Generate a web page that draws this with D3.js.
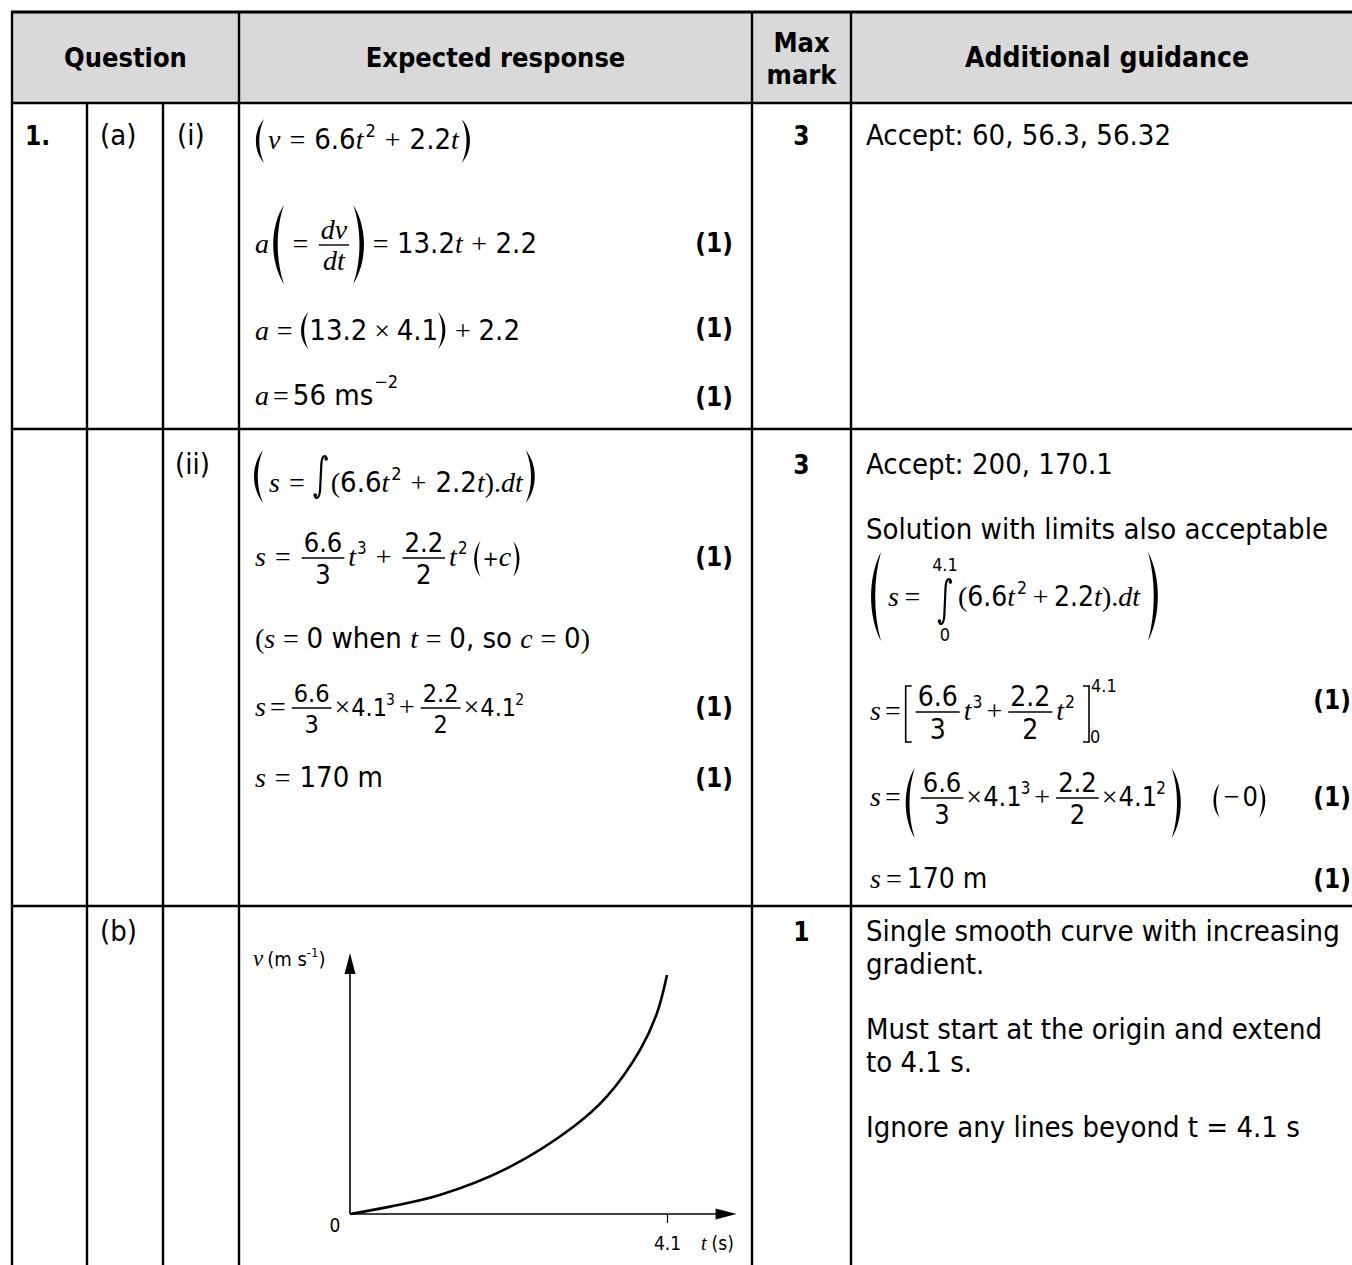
<!DOCTYPE html>
<html><head><meta charset="utf-8">
<script src="https://cdn.jsdelivr.net/npm/d3@7/dist/d3.min.js"></script>
<style>body{margin:0;background:#fff}</style></head>
<body>
<script>
// ---------------- DATA ----------------
const headerLabels = ["Question", "Expected response", "Max", "mark", "Additional guidance"];
const questionLabels = ["1.", "(a)", "(i)", "(ii)", "(b)"];
const maxMarks = ["3", "3", "1"];
const markLabel = "(1)";
const guidanceA = ["Accept: 60, 56.3, 56.32"];
const guidanceB = ["Accept: 200, 170.1", "Solution with limits also acceptable"];
const guidanceC = ["Single smooth curve with increasing", "gradient.", "Must start at the origin and extend", "to 4.1 s.", "Ignore any lines beyond t = 4.1 s"];
const curveT = [0, 0.52, 1.16, 2.03, 2.89, 3.32, 3.75, 3.97, 4.1];
const curveV = [0, 3.7, 9.5, 22.9, 43.8, 58.9, 82.3, 100.8, 120];
const xTickValues = [4.1];
const xTickLabels = ["4.1"];
const originLabel = "0";
const axisMax = { t: 5.0, v: 131 };

// ---------------- SETUP ----------------
const W = 1352, H = 1265;
const SANS = "'DejaVu Sans Condensed', 'Noto Sans', sans-serif";
const SERIF = "'Liberation Serif', 'DejaVu Serif', serif";
const svg = d3.select("body").append("svg").attr("width", W).attr("height", H);

function fam(k) { return (k === 'it' || k === 'ser') ? SERIF : SANS; }
function measure(str, k, sz) {
  const t = svg.append("text").attr("font-family", fam(k)).attr("font-size", sz)
    .attr("font-style", k === 'it' ? 'italic' : 'normal').attr("font-weight", k === 'b' ? 'bold' : 'normal').text(str);
  const w = t.node().getComputedTextLength(); t.remove(); return w;
}
let fs = 100 * 462 / measure("Solution with limits also acceptable", 'sans', 100);
fs = Math.max(20, Math.min(31, fs));
const fsB = 27;   // header bold
const fB2 = 26;   // marks bold
const MS = 28;    // equation serif
let curE = 29;    // equation digits (set per equation)

function T(g, x, y, str, k, sz, anchor) {
  k = k || 'sans';
  const t = g.append("text").attr("x", x).attr("y", y).text(str)
    .attr("font-family", fam(k)).attr("font-size", sz || ((k === 'it' || k === 'ser') ? MS : (k === 'b' ? fsB : fs)))
    .attr("font-style", k === 'it' ? 'italic' : 'normal')
    .attr("font-weight", k === 'b' ? 'bold' : 'normal')
    .attr("text-anchor", anchor || 'start').attr("fill", "#000");
  return t.node().getComputedTextLength();
}
function parenPath(x, top, bot, w, side) {
  const h = bot - top, t = Math.max(1.8, w * 0.3);
  if (side === 'L') {
    return `M${x + w},${top} C${x - w * 0.2},${top + h * 0.28} ${x - w * 0.2},${bot - h * 0.28} ${x + w},${bot} C${x + t},${bot - h * 0.3} ${x + t},${top + h * 0.3} ${x + w},${top} Z`;
  }
  return `M${x},${top} C${x + w * 1.2},${top + h * 0.28} ${x + w * 1.2},${bot - h * 0.28} ${x},${bot} C${x + w - t},${bot - h * 0.3} ${x + w - t},${top + h * 0.3} ${x},${top} Z`;
}
function eq(g, x, y, items, extra) {
  extra = extra || 0;
  for (const it of items) {
    if (it.gap !== undefined) { x += it.gap; continue; }
    if (it.s !== undefined) {
      x += (it.g || 0) + (it.o ? extra : 0);
      let sz = it.sz;
      if (it.sup) sz = curE * 0.62;
      else if (it.rel) sz = curE * it.rel;
      else if (!sz && it.k === 'sans') sz = curE;
      const dy = it.sup ? (it.dy !== undefined ? it.dy : -curE * 0.43) : (it.dy || 0);
      const w = T(g, x, y + dy, it.s, it.k, sz);
      x += w + (it.ga || 0) + (it.o ? extra : 0);
    } else if (it.frac) {
      const k = it.k || 'sans'; const sz = k === 'it' ? MS : curE;
      const wn = measure(it.frac[0], k, sz), wd = measure(it.frac[1], k, sz);
      const Wd = Math.max(wn, wd) + 4;
      x += 2;
      T(g, x + (Wd - wn) / 2, it.line - 6, it.frac[0], k, sz);
      T(g, x + (Wd - wd) / 2, it.line + sz * (k === 'it' ? 0.68 : 0.74) + 6, it.frac[1], k, sz);
      g.append("line").attr("x1", x).attr("x2", x + Wd).attr("y1", it.line).attr("y2", it.line)
        .attr("stroke", "#000").attr("stroke-width", 1.4);
      x += Wd + 2;
    } else if (it.paren) {
      const w = it.w || 9;
      g.append("path").attr("d", parenPath(x, it.top, it.bot, w, it.paren)).attr("fill", "#000");
      x += w + 1;
    } else if (it.brk) {
      const w = 7;
      if (it.brk === 'L') {
        g.append("path").attr("d", `M${x + w},${it.top} H${x + 1} V${it.bot} H${x + w}`).attr("fill", "none").attr("stroke", "#000").attr("stroke-width", 1.6);
        x += w + 2;
      } else {
        g.append("path").attr("d", `M${x},${it.top} H${x + w - 1} V${it.bot} H${x}`).attr("fill", "none").attr("stroke", "#000").attr("stroke-width", 1.6);
        if (it.sup) T(g, x + w + 1, it.top + 6, it.sup, 'sans', curE * 0.64);
        if (it.sub) T(g, x + w, it.bot + 1, it.sub, 'sans', curE * 0.64);
        x += w + 2;
      }
    } else if (it.int) {
      const [top, bot] = it.int, cx = x + 7;
      g.append("path").attr("d",
        `M${cx + 6},${top + 4} C${cx + 5},${top - 1} ${cx + 1},${top} ${cx + 0.6},${top + 10} L${cx - 0.6},${bot - 10} C${cx - 1},${bot} ${cx - 5},${bot + 1} ${cx - 6},${bot - 4}`)
        .attr("fill", "none").attr("stroke", "#000").attr("stroke-width", 2.2);
      g.append("circle").attr("cx", cx + 5.5).attr("cy", top + 4).attr("r", 1.8);
      g.append("circle").attr("cx", cx - 5.5).attr("cy", bot - 4).attr("r", 1.8);
      if (it.lim) {
        T(g, cx, it.limY[0], it.lim[0], 'sans', curE * 0.64, 'middle');
        T(g, cx, it.limY[1], it.lim[1], 'sans', curE * 0.64, 'middle');
      }
      x += 14;
    }
  }
  return x;
}
// lay out at a given digit size, then adjust operator spacing so the line ends near the target x
function eqFit(g, x, y, items, size, target) {
  curE = size;
  if (target === undefined) return eq(g, x, y, items, 0);
  const tmp = svg.append("g");
  const end = eq(tmp, x, y, items, 0);
  tmp.remove();
  const n = items.filter(d => d.o).length;
  const extra = n ? Math.max(-2.5, Math.min(5, (target - end) / (2 * n))) : 0;
  return eq(g, x, y, items, extra);
}
const it_ = (s, o = {}) => Object.assign({ s, k: 'it' }, o);
const sn = (s, o = {}) => Object.assign({ s, k: 'sans' }, o);
const ser = (s, o = {}) => Object.assign({ s, k: 'ser' }, o);
const op = (s, o = {}) => Object.assign({ s, k: 'ser', g: 4, ga: 4, o: true }, o);
const sup = (s, o = {}) => Object.assign({ s, k: 'sans', sup: true, g: 1 }, o);
const NB = '\u00a0';

// ---------------- TABLE FRAME ----------------
const cols = [12, 87, 163, 239, 752, 851];
const rows = { top: 12, head: 103, r1: 429, r2: 906 };
const frame = svg.append("g");
frame.append("rect").attr("x", 12).attr("y", rows.top).attr("width", W - 12).attr("height", rows.head - rows.top).attr("fill", "#d9d9d9");
[rows.top, rows.head, rows.r1, rows.r2].forEach((y, i) => {
  frame.append("line").attr("x1", 11).attr("x2", W).attr("y1", y).attr("y2", y)
    .attr("stroke", "#000").attr("stroke-width", i === 0 ? 3 : 2.4);
});
cols.forEach((x, i) => {
  const y0 = (i === 1 || i === 2) ? rows.head : rows.top;
  frame.append("line").attr("x1", x).attr("x2", x).attr("y1", y0).attr("y2", H)
    .attr("stroke", "#000").attr("stroke-width", 2.4);
});

const g = svg.append("g");
// header
T(g, 125.5, 67, headerLabels[0], 'b', fsB, 'middle');
T(g, 495.5, 67, headerLabels[1], 'b', fsB, 'middle');
T(g, 801.5, 52, headerLabels[2], 'b', fsB, 'middle');
T(g, 801.5, 84, headerLabels[3], 'b', fsB, 'middle');
T(g, 1107, 67, headerLabels[4], 'b', fsB + 1, 'middle');

// question labels
T(g, 25, 145, questionLabels[0], 'b', fB2);
T(g, 100, 145, questionLabels[1], 'sans');
T(g, 177, 145, questionLabels[2], 'sans');
T(g, 175, 474, questionLabels[3], 'sans');
T(g, 100, 941, questionLabels[4], 'sans');
// max marks
T(g, 801.5, 145, maxMarks[0], 'b', fB2, 'middle');
T(g, 801.5, 474, maxMarks[1], 'b', fB2, 'middle');
T(g, 801.5, 941, maxMarks[2], 'b', fB2, 'middle');
// guidance text
T(g, 866, 145, guidanceA[0]);
T(g, 866, 474, guidanceB[0]);
T(g, 866, 539, guidanceB[1]);
[941, 974, 1039, 1072, 1137].forEach((y, i) => T(g, 866, y, guidanceC[i]));

// (1) marks
[252, 337, 406, 566, 716, 787].forEach(y => T(g, 733, y, markLabel, 'b', fB2, 'end'));
[709, 806, 888].forEach(y => T(g, 1351, y, markLabel, 'b', fB2, 'end'));

// ---------------- EQUATIONS (left) ----------------
const L = 255;
eqFit(g, L, 149, [{ paren: 'L', top: 119, bot: 163, w: 9 }, { gap: 3 }, it_('v'), op('='), sn('6.6'), it_('t'), sup('2', { g: 2 }), op('+'), sn('2.2'), it_('t'), { gap: 3 }, { paren: 'R', top: 119, bot: 163, w: 9 }], 29, 476);
eqFit(g, L, 253, [it_('a'), { gap: 3 }, { paren: 'L', top: 205, bot: 284, w: 12 }, op('=', { g: 3 }), { frac: ['dv', 'dt'], k: 'it', line: 245 }, { gap: 2 }, { paren: 'R', top: 205, bot: 284, w: 12 }, op('=', { g: 2 }), sn('13.2'), it_('t'), op('+'), sn('2.2')], 29, 537);
eqFit(g, L, 340, [it_('a'), op('='), { paren: 'L', top: 312, bot: 349, w: 8 }, sn('13.2'), op('×', { g: 3, ga: 3 }), sn('4.1'), { paren: 'R', top: 312, bot: 349, w: 8 }, op('+'), sn('2.2')], 29, 520);
eqFit(g, L, 405, [it_('a'), op('='), sn('56' + NB + 'ms'), sup('−2', { dy: -17 })], 29);

eqFit(g, 253, 492, [{ paren: 'L', top: 450, bot: 503, w: 10 }, { gap: 5 }, it_('s'), op('='), { int: [455, 499] }, { gap: 3 }, ser('('), sn('6.6'), it_('t'), sup('2', { g: 2 }), op('+'), sn('2.2'), it_('t'), ser(').'), it_('dt'), { gap: 3 }, { paren: 'R', top: 450, bot: 503, w: 10 }], 29, 545);
eqFit(g, L, 566, [it_('s'), op('='), { frac: ['6.6', '3'], line: 558 }, it_('t', { g: 2 }), sup('3', { g: 1 }), op('+'), { frac: ['2.2', '2'], line: 558 }, it_('t', { g: 2 }), sup('2', { g: 1 }), { gap: 6 }, { paren: 'L', top: 541, bot: 577, w: 7 }, sn('+', { rel: 0.8, g: 1 }), it_('c'), { gap: 2 }, { paren: 'R', top: 541, bot: 577, w: 7 }], 27, 523);
eqFit(g, L, 648, [ser('('), it_('s'), op('='), sn('0' + NB + 'when' + NB), it_('t'), op('='), sn('0,' + NB + 'so' + NB), it_('c'), op('='), sn('0'), ser(')')], 29, 590);
eqFit(g, L, 716, [it_('s'), op('=', { o: false }), { frac: ['6.6', '3'], line: 708 }, op('×', { g: 1, ga: 1 }), sn('4.1'), sup('3', { g: -1 }), op('+'), { frac: ['2.2', '2'], line: 708 }, op('×', { g: 1, ga: 1 }), sn('4.1'), sup('2', { g: -1 })], 25, 524);
eqFit(g, L, 787, [it_('s'), op('='), sn('170' + NB + 'm')], 29, 383);

// ---------------- EQUATIONS (right) ----------------
const R = 870;
eqFit(g, R, 606, [{ paren: 'L', top: 552, bot: 641, w: 11 }, { gap: 6 }, it_('s'), op('='), { gap: 12 }, { int: [578, 625], lim: ['4.1', '0'], limY: [571, 641] }, { gap: 6 }, ser('('), sn('6.6'), it_('t'), sup('2', { g: 2 }), op('+'), sn('2.2'), it_('t'), ser(').'), it_('dt'), { gap: 8 }, { paren: 'R', top: 552, bot: 641, w: 11 }], 28, 1160);
eqFit(g, R, 720, [it_('s'), op('='), { brk: 'L', top: 686, bot: 742 }, { frac: ['6.6', '3'], line: 712 }, it_('t', { g: 2 }), sup('3', { g: 1 }), op('+'), { frac: ['2.2', '2'], line: 712 }, it_('t', { g: 2 }), sup('2', { g: 1 }), { gap: 8 }, { brk: 'R', top: 686, bot: 742, sup: '4.1', sub: '0' }], 28);
eqFit(g, R, 806, [it_('s'), op('='), { paren: 'L', top: 768, bot: 838, w: 10 }, { gap: 3 }, { frac: ['6.6', '3'], line: 798 }, op('×', { g: 1, ga: 1 }), sn('4.1'), sup('3', { g: -1 }), op('+'), { frac: ['2.2', '2'], line: 798 }, op('×', { g: 1, ga: 1 }), sn('4.1'), sup('2', { g: -1 }), { gap: 6 }, { paren: 'R', top: 768, bot: 838, w: 10 }, { gap: 30 }, { paren: 'L', top: 783, bot: 818, w: 7 }, op('−', { g: 3, ga: 3 }), sn('0'), { gap: 1 }, { paren: 'R', top: 783, bot: 818, w: 7 }], 27);
eqFit(g, R, 888, [it_('s'), op('=', { g: 5, ga: 5 }), sn('170' + NB + 'm')], 28);

// ---------------- GRAPH ----------------
const x = d3.scaleLinear().domain([0, 4.1]).range([350, 667]);
const y = d3.scaleLinear().domain([0, 120]).range([1214, 975]);
const gr = svg.append("g");
gr.append("line").attr("x1", x(0)).attr("x2", x(axisMax.t) - 14).attr("y1", y(0)).attr("y2", y(0)).attr("stroke", "#000").attr("stroke-width", 1.6);
gr.append("line").attr("x1", x(0)).attr("x2", x(0)).attr("y1", y(0)).attr("y2", y(axisMax.v) + 14).attr("stroke", "#000").attr("stroke-width", 1.6);
gr.append("path").attr("d", `M${x(axisMax.t)},${y(0)} L${x(axisMax.t) - 21},${y(0) - 5.5} L${x(axisMax.t) - 21},${y(0) + 5.5} Z`).attr("fill", "#000");
gr.append("path").attr("d", `M${x(0)},${y(axisMax.v)} L${x(0) - 5.5},${y(axisMax.v) + 21} L${x(0) + 5.5},${y(axisMax.v) + 21} Z`).attr("fill", "#000");
const xAxis = d3.axisBottom(x).tickValues(xTickValues).tickSize(9).tickFormat((d, i) => xTickLabels[i]);
const ax = gr.append("g").attr("transform", `translate(0,${y(0)})`).call(xAxis);
ax.select(".domain").remove();
ax.selectAll(".tick line").attr("stroke", "#000").attr("stroke-width", 1.2);
ax.selectAll(".tick text").attr("y", 36).attr("dy", 0).attr("font-family", SANS).attr("font-size", 19).attr("fill", "#000");
T(gr, x(0) - 15, 1232, originLabel, 'sans', 19, 'middle');
// axis titles
let tx = x(4.1) + 34;
tx += T(gr, tx, 1250, 't', 'it', 20) + 5;
T(gr, tx, 1250, '(s)', 'sans', 19);
let vx = 253;
vx += T(gr, vx, 966, 'v', 'it', 23) + 4;
vx += T(gr, vx, 966, '(m' + NB + 's', 'sans', 20);
vx += T(gr, vx, 957, '-1', 'sans', 13);
T(gr, vx, 966, ')', 'sans', 20);
const line = d3.line().x((d, i) => x(curveT[i])).y(d => y(d)).curve(d3.curveCatmullRom.alpha(0.5));
gr.append("path").datum(curveV).attr("d", line).attr("fill", "none").attr("stroke", "#000").attr("stroke-width", 2.6);
</script>
</body></html>
